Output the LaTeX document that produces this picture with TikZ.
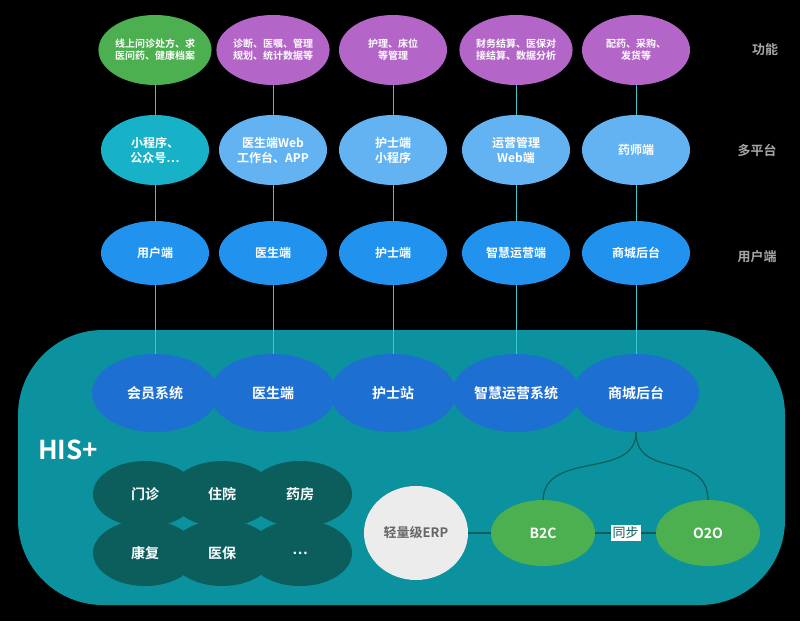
\documentclass[tikz,border=0pt]{standalone}
\usepackage{fontspec}
\setmainfont{Noto Sans CJK SC}[BoldFont={* Bold}]
\usetikzlibrary{shapes.geometric}
\definecolor{funcGreen}{HTML}{4CAF50}
\definecolor{funcPurple}{HTML}{B466C8}
\definecolor{platCyan}{HTML}{17B2C8}
\definecolor{platBlue}{HTML}{63B3F2}
\definecolor{userBlue}{HTML}{2193EE}
\definecolor{sysBlue}{HTML}{1E6FD2}
\definecolor{hisTeal}{HTML}{0B929E}
\definecolor{modDark}{HTML}{0B5E5C}
\definecolor{linkTeal}{HTML}{3CC6D2}
\tikzset{
  bubble/.style={ellipse,minimum width=108pt,minimum height=70pt,inner sep=0pt,
    text=white,font=\bfseries\fontsize{10}{12}\selectfont,align=center},
  plat/.style={bubble,font=\bfseries\fontsize{12}{15}\selectfont},
  usr/.style={plat,fill=userBlue,minimum height=64pt},
  sys/.style={ellipse,fill=sysBlue,minimum width=126pt,minimum height=78pt,
    text=white,font=\bfseries\fontsize{14}{16}\selectfont},
  mod/.style={ellipse,fill=modDark,minimum width=104pt,minimum height=66pt,
    text=white,font=\bfseries\fontsize{14}{16}\selectfont},
  tag/.style={text=gray!70,font=\bfseries\fontsize{13}{15}\selectfont},
  link/.style={linkTeal,line width=0.8pt},
  wire/.style={modDark,line width=1.2pt}
}
\begin{document}
\begin{tikzpicture}[x=1pt,y=-1pt]
  \useasboundingbox[fill=black] (0,0) rectangle (800,621);
  \fill[hisTeal,rounded corners=85pt] (18,330) rectangle (785,605);
  % function row
  \node[bubble,fill=funcGreen] (f1) at (155,50) {线上问诊处方、求\\医问药、健康档案};
  \node[bubble,fill=funcPurple] (f2) at (273,50) {诊断、医嘱、管理\\规划、统计数据等};
  \node[bubble,fill=funcPurple] (f3) at (393,50) {护理、床位\\等管理};
  \node[bubble,fill=funcPurple] (f4) at (516,50) {财务结算、医保对\\接结算、数据分析};
  \node[bubble,fill=funcPurple] (f5) at (636,50) {配药、采购、\\发货等};
  % platform row
  \node[plat,fill=platCyan] (p1) at (155,150) {小程序、\\公众号…};
  \node[plat,fill=platBlue] (p2) at (273,150) {医生端Web\\工作台、APP};
  \node[plat,fill=platBlue] (p3) at (393,150) {护士端\\小程序};
  \node[plat,fill=platBlue] (p4) at (516,150) {运营管理\\Web端};
  \node[plat,fill=platBlue] (p5) at (636,150) {药师端};
  % user row
  \node[usr] (u1) at (155,253) {用户端};
  \node[usr] (u2) at (273,253) {医生端};
  \node[usr] (u3) at (393,253) {护士端};
  \node[usr] (u4) at (516,253) {智慧运营端};
  \node[usr] (u5) at (636,253) {商城后台};
  % system row
  \node[sys] (s1) at (155,393) {会员系统};
  \node[sys] (s2) at (273,393) {医生端};
  \node[sys] (s3) at (393,393) {护士站};
  \node[sys] (s4) at (516,393) {智慧运营系统};
  \node[sys] (s5) at (636,393) {商城后台};
  \foreach \i in {1,...,5}{
    \draw[link] (f\i) -- (p\i);
    \draw[link] (p\i) -- (u\i);
    \draw[link] (u\i) -- (s\i);
  }
  \node[tag] (t1) at (765,50) {功能};
  \node[tag] (t2) at (757,150) {多平台};
  \node[tag] (t3) at (757,257) {用户端};
  \node[text=white,font=\bfseries\fontsize{26}{28}\selectfont] (his) at (68,450) {HIS+};
  % modules
  \node[mod] (m1) at (145,494) {门诊};
  \node[mod] (m2) at (222,494) {住院};
  \node[mod] (m3) at (300,494) {药房};
  \node[mod] (m4) at (145,553) {康复};
  \node[mod] (m5) at (222,553) {医保};
  \node[mod] (m6) at (300,553) {…};
  % shop
  \node[ellipse,fill=gray!15,minimum width=104pt,minimum height=94pt,
    font=\bfseries\fontsize{13}{15}\selectfont,text=gray!80!black] (erp) at (416,533) {轻量级ERP};
  \node[mod,fill=funcGreen] (b2c) at (543,533) {B2C};
  \node[mod,fill=funcGreen] (o2o) at (708,533) {O2O};
  \draw[wire] (erp) -- (b2c);
  \draw[wire] (b2c) -- node[fill=white,inner sep=2pt,
    font=\fontsize{13}{15}\selectfont] (sync) {同步} (o2o);
  \draw[wire] (s5.south) .. controls (636,480) and (545,450) .. (b2c.north);
  \draw[wire] (s5.south) .. controls (636,480) and (707,450) .. (o2o.north);
\end{tikzpicture}
\end{document}
